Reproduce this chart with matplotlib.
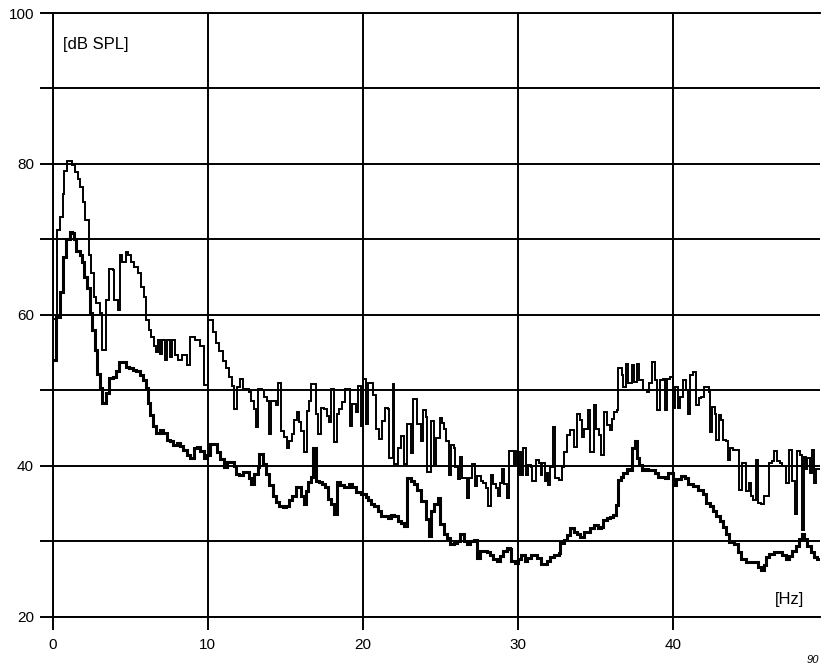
import matplotlib.pyplot as plt

plt.rcParams['font.family'] = ['Liberation Sans', 'DejaVu Sans']

# upper trace: step start frequency [Hz] and level [dB SPL]
upper_hz = [0.0, 0.26, 0.48, 0.65, 0.74, 0.92, 1.24, 1.46, 1.61, 1.79, 1.96, 2.11, 2.33, 2.48,
            2.66, 2.81, 3.05, 3.2, 3.42, 3.64, 3.86, 3.97, 4.18, 4.34, 4.5, 4.73, 4.88, 5.05,
            5.27, 5.49, 5.71, 5.88, 6.03, 6.19, 6.36, 6.54, 6.69, 6.8, 6.9, 7.05, 7.23, 7.4,
            7.56, 7.7, 7.9, 8.1, 8.32, 8.5, 8.65, 8.87, 9.19, 9.52, 9.74, 10.0,
            10.32, 10.54, 10.75, 10.96, 11.18, 11.39, 11.54, 11.71, 11.88, 12.1, 12.25, 12.68,
            12.78, 13.0, 13.1, 13.25, 13.47, 13.64, 13.81, 13.96, 14.07, 14.39, 14.5, 14.71,
            14.93, 15.1, 15.25, 15.4, 15.57, 15.74, 15.89, 16.04, 16.21, 16.38, 16.53, 16.68,
            16.96, 17.1, 17.28, 17.49, 17.67, 17.82, 17.97, 18.14, 18.31, 18.46, 18.67, 18.82,
            19.16, 19.31, 19.53, 19.68, 19.85, 20.02, 20.21, 20.36, 20.64, 20.85, 21.06, 21.23,
            21.43, 21.6, 21.7, 21.91, 22.02, 22.23, 22.45, 22.66, 22.87, 23.09, 23.26, 23.51,
            23.72, 23.89, 24.04, 24.15, 24.36, 24.57, 24.74, 24.96, 25.11, 25.21, 25.38, 25.53,
            25.68, 25.85, 25.96, 26.11, 26.28, 26.38, 26.7, 26.87, 27.02, 27.23, 27.38, 27.6,
            27.77, 27.94, 28.09, 28.26, 28.4, 28.57, 28.68, 28.83, 28.94, 29.09, 29.26, 29.43,
            29.72, 29.85, 30.0, 30.06, 30.21, 30.34, 30.49, 30.64, 30.81, 30.92, 31.13, 31.35,
            31.45, 31.56, 31.71, 31.84, 31.92, 32.09, 32.26, 32.41, 32.63, 32.84, 32.99, 33.16,
            33.38, 33.59, 33.8, 33.97, 34.12, 34.27, 34.49, 34.66, 34.87, 35.04, 35.19, 35.34,
            35.56, 35.73, 35.9, 36.05, 36.2, 36.37, 36.47, 36.69, 36.79, 36.97, 37.12, 37.33,
            37.48, 37.65, 37.82, 38.03, 38.29, 38.46, 38.61, 38.82, 38.93, 39.15, 39.36, 39.47,
            39.62, 39.79, 39.96, 40.11, 40.32, 40.47, 40.64, 40.81, 40.96, 41.11, 41.28, 41.5,
            41.67, 41.82, 41.97, 42.31, 42.35, 42.52, 42.67, 42.78, 42.95, 43.1, 43.21, 43.38,
            43.53, 43.68, 43.89, 44.27, 44.44, 44.7, 44.87, 45.02, 45.17, 45.34, 45.45, 45.66,
            45.88, 46.2, 46.37, 46.52, 46.67, 46.88, 47.05, 47.26, 47.48, 47.69, 47.86, 48.01,
            48.16, 48.29, 48.44, 48.55, 48.65, 48.8, 48.93, 49.08, 49.19]
upper_db = [59.5, 71.2, 73.0, 76.0, 79.0, 80.4, 79.8, 78.9, 78.0, 76.9, 74.9, 72.5, 67.9, 65.5,
            62.4, 61.5, 60.2, 55.3, 61.9, 66.1, 65.9, 62.0, 60.6, 67.9, 67.0, 68.3, 67.9, 67.0,
            66.3, 65.5, 63.7, 62.4, 59.3, 58.0, 57.1, 55.8, 55.1, 56.6, 54.8, 56.6, 54.0, 56.6,
            54.4, 56.6, 54.6, 54.0, 54.6, 54.6, 53.3, 57.1, 56.6, 55.8, 50.7, 59.3,
            57.7, 56.3, 55.2, 53.9, 53.0, 51.7, 50.6, 47.5, 50.4, 51.5, 50.2, 49.8,
            48.6, 47.5, 45.1, 50.2, 50.0, 49.1, 48.6, 44.2, 48.6, 48.0, 51.0, 44.6,
            43.8, 42.4, 43.3, 44.2, 46.0, 47.1, 45.8, 44.6, 41.8, 47.3, 48.6, 50.8,
            46.9, 44.2, 47.7, 47.5, 46.6, 45.8, 50.2, 43.1, 46.9, 47.5, 48.4, 50.2,
            45.3, 48.2, 47.1, 50.6, 45.3, 51.5, 45.5, 51.0, 49.4, 44.8, 43.5, 45.9,
            47.7, 47.5, 41.0, 50.8, 40.2, 42.4, 43.9, 40.2, 45.5, 41.7, 48.8, 45.5,
            43.2, 47.4, 46.5, 39.1, 45.9, 40.2, 43.7, 46.3, 45.7, 44.8, 43.2, 38.8,
            42.8, 42.4, 39.8, 38.2, 41.1, 38.4, 35.7, 38.4, 40.2, 37.3, 38.6, 38.0,
            37.7, 37.1, 34.6, 38.8, 37.5, 37.1, 36.0, 37.7, 39.6, 37.5, 35.7, 41.9,
            40.2, 41.9, 38.8, 41.8, 38.7, 42.3, 38.7, 40.1, 39.8, 37.9, 40.7, 40.3,
            38.7, 40.3, 37.9, 39.0, 37.4, 39.8, 45.1, 38.3, 38.1, 39.8, 41.8, 44.0,
            44.7, 42.5, 46.9, 46.0, 43.8, 44.9, 47.4, 41.8, 48.0, 44.9, 44.0, 41.4,
            47.1, 45.4, 44.7, 46.2, 47.1, 47.4, 52.9, 52.0, 50.4, 53.5, 50.9, 53.3,
            51.1, 53.5, 51.3, 50.0, 49.8, 50.9, 53.8, 51.3, 47.4, 51.3, 51.5, 47.4,
            51.5, 51.8, 47.6, 50.4, 47.6, 49.1, 51.3, 50.0, 46.9, 52.0, 52.4, 48.0,
            48.9, 49.1, 50.4, 49.8, 44.5, 47.8, 46.9, 43.4, 46.7, 46.1, 43.4, 43.2,
            40.8, 42.3, 42.1, 36.8, 40.4, 36.6, 37.7, 36.0, 35.5, 40.8, 35.1, 34.9,
            36.0, 40.4, 40.6, 41.9, 40.6, 40.4, 39.9, 37.7, 42.1, 37.9, 33.6, 41.9,
            41.4, 31.5, 41.2, 39.5, 41.0, 39.0, 42.1, 37.7, 39.5]

# lower trace
lower_hz = [0.0, 0.2, 0.48, 0.65, 0.87, 1.09, 1.24, 1.39, 1.53, 1.74, 1.9, 2.05, 2.22, 2.4,
            2.55, 2.7, 2.88, 3.05, 3.2, 3.42, 3.64, 3.86, 4.07, 4.29, 4.73, 4.95, 5.16, 5.38,
            5.6, 5.82, 6.03, 6.14, 6.25, 6.47, 6.69, 6.9, 7.12, 7.34, 7.56, 7.78, 8.0, 8.21,
            8.43, 8.65, 8.87, 9.08, 9.3, 9.52, 9.74, 9.96, 10.17, 10.6, 10.81, 11.03, 11.24,
            11.67, 11.82, 12.03, 12.25, 12.68, 12.78, 13.0, 13.21, 13.32, 13.53, 13.75, 13.96,
            14.18, 14.39, 14.6, 14.82, 15.03, 15.25, 15.46, 15.67, 16.0, 16.17, 16.32, 16.47,
            16.64, 16.75, 16.96, 17.17, 17.39, 17.54, 17.75, 17.97, 18.14, 18.31, 18.52, 18.78,
            19.1, 19.31, 19.53, 19.85, 20.17, 20.32, 20.53, 20.74, 20.96, 21.17, 21.6, 21.81,
            22.02, 22.23, 22.45, 22.66, 22.87, 23.09, 23.3, 23.51, 23.72, 24.04, 24.26, 24.36,
            24.57, 24.83, 25.0, 25.21, 25.43, 25.64, 25.85, 26.06, 26.28, 26.49, 26.7, 26.91,
            27.13, 27.34, 27.55, 27.98, 28.19, 28.4, 28.62, 28.83, 29.04, 29.26, 29.47, 29.57,
            29.79, 30.0, 30.21, 30.43, 30.6, 30.81, 31.24, 31.45, 31.88, 32.09, 32.3, 32.62,
            32.73, 32.95, 33.16, 33.38, 33.59, 33.8, 34.02, 34.23, 34.66, 34.87, 35.13, 35.34,
            35.51, 35.73, 35.94, 36.15, 36.32, 36.47, 36.62, 36.79, 37.01, 37.22, 37.33, 37.54,
            37.65, 37.82, 37.97, 38.18, 38.4, 38.82, 39.04, 39.47, 39.68, 40.0, 40.21, 40.53,
            40.75, 40.96, 41.28, 41.6, 41.92, 42.14, 42.35, 42.56, 42.78, 42.99, 43.21, 43.42,
            43.63, 43.95, 44.17, 44.38, 44.7, 45.45, 45.66, 45.88, 45.98, 46.2, 46.52, 47.05,
            47.26, 47.48, 47.69, 47.91, 48.12, 48.29, 48.44, 48.65, 48.87, 49.08, 49.3]
lower_db = [54.0, 59.7, 63.0, 67.7, 70.1, 71.0, 70.8, 70.1, 68.5, 67.9, 67.0, 65.0, 63.5, 60.2,
            58.0, 55.3, 52.2, 50.3, 48.3, 49.6, 51.6, 51.8, 52.5, 53.8, 53.1, 52.9, 52.7, 52.5,
            52.0, 51.4, 50.3, 48.3, 46.7, 45.2, 44.3, 44.7, 44.3, 43.4, 43.2, 42.8, 43.0, 42.6,
            42.1, 41.4, 41.0, 42.3, 42.5, 41.9, 41.0, 41.4, 42.9, 41.8, 40.9, 39.8, 40.5,
            40.0, 38.9, 38.7, 39.1, 38.3, 37.6, 38.9, 39.8, 41.6, 40.2, 38.9, 37.4,
            36.0, 35.2, 34.7, 34.5, 34.7, 35.4, 36.0, 37.2, 36.0, 34.9, 36.7, 37.8,
            38.5, 42.4, 38.0, 37.8, 37.6, 37.2, 35.6, 34.9, 33.6, 37.8, 37.4, 37.2,
            37.6, 37.2, 36.5, 36.3, 35.8, 35.5, 34.9, 34.6, 34.0, 33.3, 33.1, 33.5,
            33.3, 32.6, 32.4, 32.0, 38.4, 37.9, 37.5, 36.8, 35.3, 32.9, 30.7, 34.0,
            34.9, 35.7, 32.2, 30.9, 30.4, 29.6, 29.8, 30.0, 30.9, 30.0, 29.6, 30.0,
            30.2, 27.8, 28.7, 28.5, 28.2, 27.6, 27.4, 28.0, 28.7, 29.1, 28.9, 27.4,
            27.1, 27.6, 28.2, 27.4, 27.7, 28.1, 27.7, 27.0, 27.3, 27.9, 28.1, 28.4,
            29.7, 30.1, 30.8, 31.7, 31.2, 31.0, 30.6, 31.2, 31.7, 32.1, 31.7, 31.9,
            32.8, 33.0, 33.2, 33.4, 34.8, 38.1, 38.5, 39.0, 39.6, 39.4, 42.3, 43.2,
            41.0, 40.1, 39.4, 39.6, 39.4, 39.0, 38.5, 38.3, 39.0, 37.4, 38.2, 38.6,
            38.4, 37.5, 37.3, 36.8, 36.2, 35.1, 34.6, 34.0, 33.3, 32.7, 31.8, 30.9,
            29.9, 29.6, 28.5, 27.6, 27.2, 26.5, 26.1, 26.8, 27.9, 28.3, 28.5, 28.1,
            27.6, 28.0, 28.7, 29.4, 30.3, 30.9, 30.3, 29.4, 28.5, 27.9, 27.6]

x_end = 49.47
x_ticks = [0, 10, 20, 30, 40]
y_ticks = [20, 30, 40, 50, 60, 70, 80, 90, 100]
y_labels = ['20', '', '40', '', '60', '', '80', '', '100']

fig = plt.figure(figsize=(8.22, 6.67), dpi=100)
ax = fig.add_axes([0.0641, 0.0757, 0.9335, 0.9048])

ax.step(upper_hz + [x_end], upper_db + [upper_db[-1]], where='post',
        color='black', lw=1.4, solid_joinstyle='miter')
ax.step(lower_hz + [x_end], lower_db + [lower_db[-1]], where='post',
        color='black', lw=2.2, solid_joinstyle='miter')

ax.set_xlim(0, x_end)
ax.set_ylim(20, 100)
ax.set_xticks(x_ticks)
ax.set_yticks(y_ticks)
ax.set_yticklabels(y_labels)
ax.grid(True, color='black', lw=1.4)
ax.set_axisbelow(True)
for s in ['left', 'bottom', 'top']:
    ax.spines[s].set_linewidth(1.4)
ax.spines['right'].set_visible(False)
ax.tick_params(direction='out', length=9.5, width=1.4, labelsize=11, pad=4)
ax.tick_params(axis='x', pad=6)

ax.text(0.66, 95.8, '[dB SPL]', fontsize=12, va='center', ha='left')
ax.text(46.55, 22.2, '[Hz]', fontsize=12, va='center', ha='left')
fig.text(0.981, 0.0105, '90', fontsize=8, style='italic', va='center', ha='left')

fig.savefig('out.png', dpi=100)
